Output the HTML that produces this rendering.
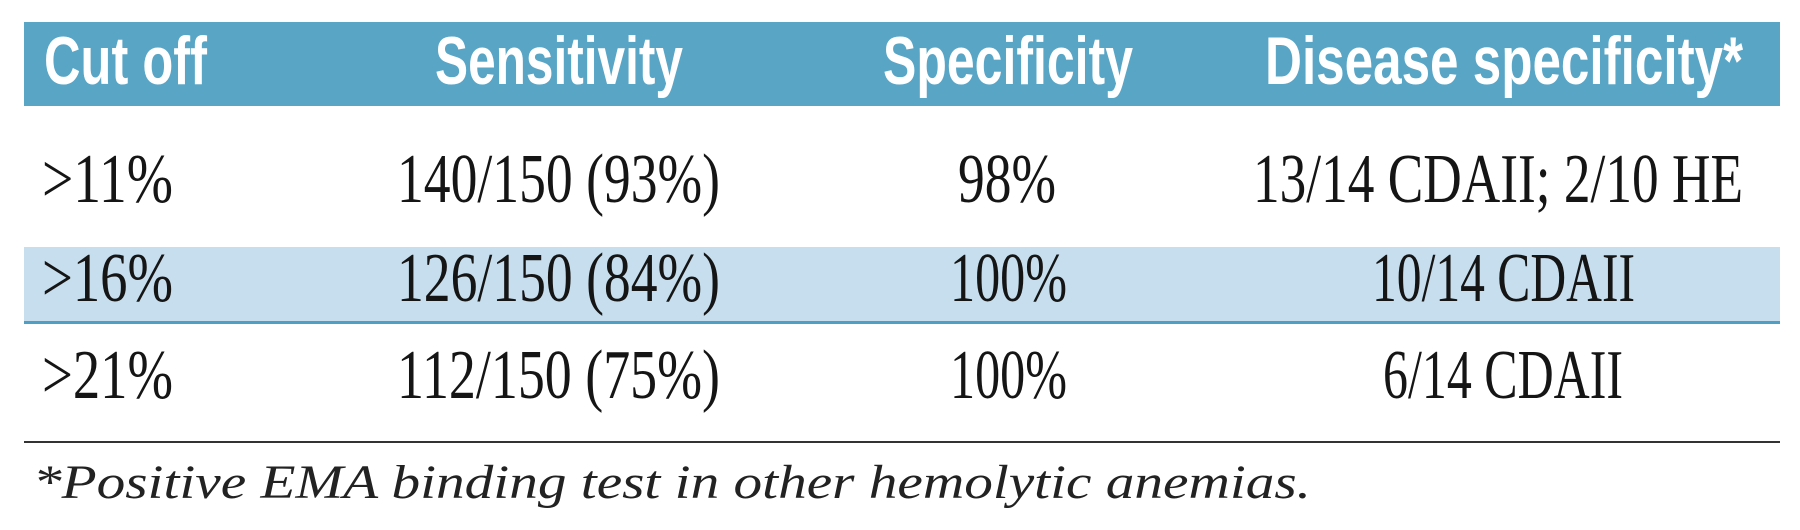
<!DOCTYPE html>
<html><head><meta charset="utf-8"><style>
html,body{margin:0;padding:0;background:#fff;width:1800px;height:530px;overflow:hidden}
svg{display:block}
.h{font-family:"Liberation Sans",sans-serif;font-weight:bold;font-size:68px;fill:#fff}
.d{font-family:"Liberation Serif",serif;font-size:70px;fill:#151515}
.f{font-family:"Liberation Serif",serif;font-style:italic;font-size:48px;fill:#222}
</style></head><body>
<svg width="1800" height="530" viewBox="0 0 1800 530">
<rect x="24" y="22" width="1756" height="84" fill="#58a5c6"/>
<text class="h" x="44" y="84" textLength="163" lengthAdjust="spacingAndGlyphs">Cut off</text>
<text class="h" x="435" y="84" textLength="248" lengthAdjust="spacingAndGlyphs">Sensitivity</text>
<text class="h" x="883" y="84" textLength="250" lengthAdjust="spacingAndGlyphs">Specificity</text>
<text class="h" x="1265" y="84" textLength="478" lengthAdjust="spacingAndGlyphs">Disease specificity*</text>

<rect x="24" y="247" width="1756" height="75" fill="#c6deed"/>
<rect x="24" y="321" width="1756" height="3" fill="#4e9fc3"/>
<rect x="24" y="441" width="1756" height="2" fill="#333"/>

<g>
<text class="d" x="42" y="202" textLength="131" lengthAdjust="spacingAndGlyphs">&gt;11%</text>
<text class="d" x="397" y="202" textLength="323" lengthAdjust="spacingAndGlyphs">140/150 (93%)</text>
<text class="d" x="958" y="202" textLength="98" lengthAdjust="spacingAndGlyphs">98%</text>
<text class="d" x="1253" y="202" textLength="490" lengthAdjust="spacingAndGlyphs">13/14 CDAII; 2/10 HE</text>
</g>
<g>
<text class="d" x="42" y="301" textLength="131" lengthAdjust="spacingAndGlyphs">&gt;16%</text>
<text class="d" x="397" y="301" textLength="323" lengthAdjust="spacingAndGlyphs">126/150 (84%)</text>
<text class="d" x="950" y="301" textLength="117" lengthAdjust="spacingAndGlyphs">100%</text>
<text class="d" x="1372" y="301" textLength="263" lengthAdjust="spacingAndGlyphs">10/14 CDAII</text>
</g>
<g>
<text class="d" x="42" y="398" textLength="131" lengthAdjust="spacingAndGlyphs">&gt;21%</text>
<text class="d" x="397" y="398" textLength="323" lengthAdjust="spacingAndGlyphs">112/150 (75%)</text>
<text class="d" x="950" y="398" textLength="117" lengthAdjust="spacingAndGlyphs">100%</text>
<text class="d" x="1383" y="398" textLength="240" lengthAdjust="spacingAndGlyphs">6/14 CDAII</text>
</g>
<text class="f" x="33" y="498" textLength="1278" lengthAdjust="spacingAndGlyphs">*Positive EMA binding test in other hemolytic anemias.</text>
</svg>
</body></html>
